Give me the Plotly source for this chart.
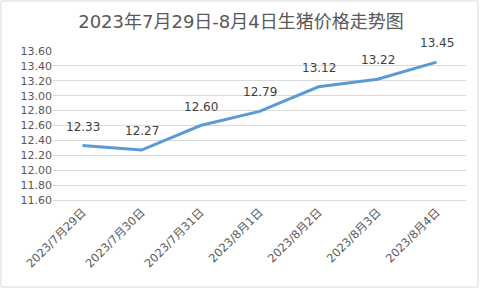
import plotly.graph_objects as go

categories = ["2023/7月29日", "2023/7月30日", "2023/7月31日", "2023/8月1日", "2023/8月2日", "2023/8月3日", "2023/8月4日"]
prices = [12.33, 12.27, 12.60, 12.79, 13.12, 13.22, 13.45]
y_ticks = [11.60, 11.80, 12.00, 12.20, 12.40, 12.60, 12.80, 13.00, 13.20, 13.40, 13.60]
title_text = "2023年7月29日-8月4日生猪价格走势图"

FONT = "DejaVu Sans, Noto Sans CJK SC, sans-serif"

fig = go.Figure()
fig.add_trace(go.Scatter(
    x=categories, y=prices, mode="lines",
    line=dict(color="#5B9BD5", width=3),
    hoverinfo="skip", cliponaxis=False,
))

for c, v in zip(categories, prices):
    fig.add_annotation(x=c, y=v, text=f"{v:.2f}", showarrow=False, yshift=19,
                       font=dict(family=FONT, size=12, color="#404040"))

L, R, T, B = 53, 16, 51, 90
W, H = 482, 290
pw, ph = W - L - R, H - T - B
fig.add_shape(type="rect", xref="paper", yref="paper",
              x0=(1 - L) / pw, x1=(478 - L) / pw,
              y0=(H - B - 287) / ph, y1=(H - B - 1) / ph,
              line=dict(color="#D9D9D9", width=1), layer="below")

fig.update_layout(
    width=W, height=H,
    margin=dict(l=L, r=R, t=T, b=B),
    paper_bgcolor="white", plot_bgcolor="white",
    showlegend=False,
    title=dict(text=title_text, x=0.5, xref="container", xanchor="center",
               y=1 - 22 / H, yanchor="middle",
               font=dict(family=FONT, size=18, color="#595959")),
    xaxis=dict(type="category", tickangle=-45, showgrid=False,
               showline=True, linecolor="#D9D9D9", linewidth=1,
               ticks="", ticklen=0, tickfont=dict(family=FONT, size=11.5, color="#595959"),
               range=[-0.5, len(categories) - 0.5]),
    yaxis=dict(range=[11.6, 13.6], tickvals=y_ticks,
               ticktext=[f"{t:.2f}" for t in y_ticks],
               showgrid=True, gridcolor="#D9D9D9", gridwidth=1,
               zeroline=False, showline=False, ticks="",
               tickfont=dict(family=FONT, size=11, color="#595959")),
)

fig.write_html("out.html")
